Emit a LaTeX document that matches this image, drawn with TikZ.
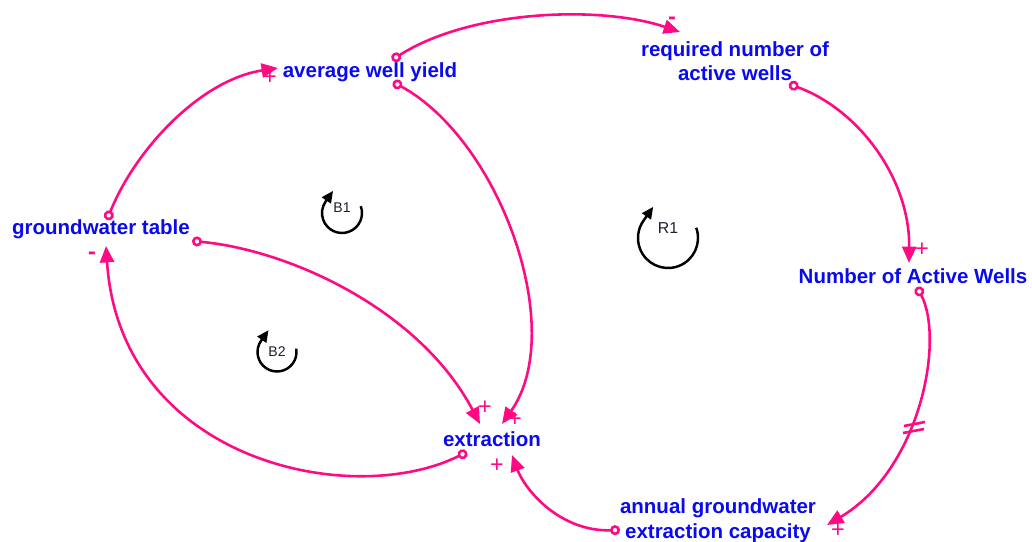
\documentclass[tikz,border=0pt]{standalone}
\usepackage{fontspec}
\setmainfont{Liberation Sans}
\usetikzlibrary{arrows.meta}
\definecolor{lnk}{RGB}{255,10,130}
\definecolor{vtext}{RGB}{10,10,240}
\definecolor{looptxt}{RGB}{30,30,50}
\begin{document}
\begin{tikzpicture}[x=0.03cm,y=-0.03cm,
  var/.style={text=vtext,font=\fontsize{17.5}{21}\selectfont\bfseries,align=center,inner sep=0pt},
  link/.style={draw=lnk,line width=2.2pt,{Circle[open,length=8.5pt,width=8.5pt,fill=white]}-{Triangle[length=14pt,width=12pt]}},
  delaymark/.style={draw=lnk,line width=2.2pt},
  sgn/.style={text=lnk,font=\fontsize{20}{20}\selectfont,inner sep=0pt},
  loopar/.style={draw=black,line width=2.1pt,-{Triangle[length=10pt,width=9pt]}},
  looplbl/.style={text=looptxt,font=\fontsize{12}{13}\selectfont,inner sep=0pt}]
\useasboundingbox (0,0) rectangle (1032,542);
\fill[white] (0,0) rectangle (1032,542);

% variables
\node[var] (awy) at (370,72) {average well yield};
\node[var] (rna) at (735,61) {required number of\\active wells};
\node[var] (gwt) at (101,229) {groundwater table};
\node[var] (naw) at (913,276) {Number of Active Wells};
\node[var] (ext) at (492,439) {extraction};
\node[var] (agc) at (718,521) {annual groundwater\\extraction capacity};

% link end points
\coordinate (c1s) at (107,220); \coordinate (c1e) at (278,68);
\coordinate (c2s) at (392,60);  \coordinate (c2e) at (680,32);
\coordinate (c3s) at (393,82);  \coordinate (c3e) at (502,424);
\coordinate (c4s) at (789,84);  \coordinate (c4e) at (909,263);
\coordinate (c5s) at (917,287); \coordinate (c5e) at (827,525);
\coordinate (c6s) at (620,530); \coordinate (c6e) at (512,455);
\coordinate (c7s) at (467,452); \coordinate (c7e) at (106,246);
\coordinate (c8s) at (192,241); \coordinate (c8e) at (480,424);

% links
\draw[link] (c1s) .. controls (135,150) and (200,80) .. (c1e);
\draw[link] (c2s) .. controls (470,10) and (600,5) .. (c2e);
\draw[link] (c3s) .. controls (500,140) and (568,330) .. (c3e);
\draw[link] (c4s) .. controls (860,110) and (910,180) .. (c4e);
\draw[link] (c5s) .. controls (945,340) and (920,470) .. (c5e);
\draw[link] (c6s) .. controls (560,532) and (525,490) .. (c6e);
\draw[link] (c7s) .. controls (350,510) and (120,460) .. (c7e);
\draw[link] (c8s) .. controls (290,250) and (420,310) .. (c8e);

% delay mark
\draw[delaymark] (904,426) -- (925,422);
\draw[delaymark] (903,433) -- (924,429);

% polarities
\node[sgn] (s1) at (270,78) {+};
\node[sgn] (s2) at (672,21) {\bfseries -};
\node[sgn] (s3) at (515,420) {+};
\node[sgn] (s4) at (922,250) {+};
\node[sgn] (s5) at (838,531) {+};
\node[sgn] (s6) at (497,466) {+};
\node[sgn] (s7) at (92,256) {\bfseries -};
\node[sgn] (s8) at (485,408) {+};

% loop markers
\coordinate (b1c) at (342,213);
\coordinate (r1c) at (668,238);
\coordinate (b2c) at (277,352);
\draw[loopar] ([shift={(-20:20)}]b1c) arc[start angle=-20,end angle=215,radius=20] -- ++(-55:13);
\draw[loopar] ([shift={(-20:30)}]r1c) arc[start angle=-20,end angle=215,radius=30] -- ++(-55:17);
\draw[loopar] ([shift={(-10:19.5)}]b2c) arc[start angle=-10,end angle=215,radius=19.5] -- ++(-55:13);
\node[looplbl] (b1) at (342,208) {B1};
\node[looplbl,font=\fontsize{13.5}{14}\selectfont] (r1) at (668,228) {R1};
\node[looplbl] (b2) at (277,352) {B2};
\end{tikzpicture}
\end{document}
